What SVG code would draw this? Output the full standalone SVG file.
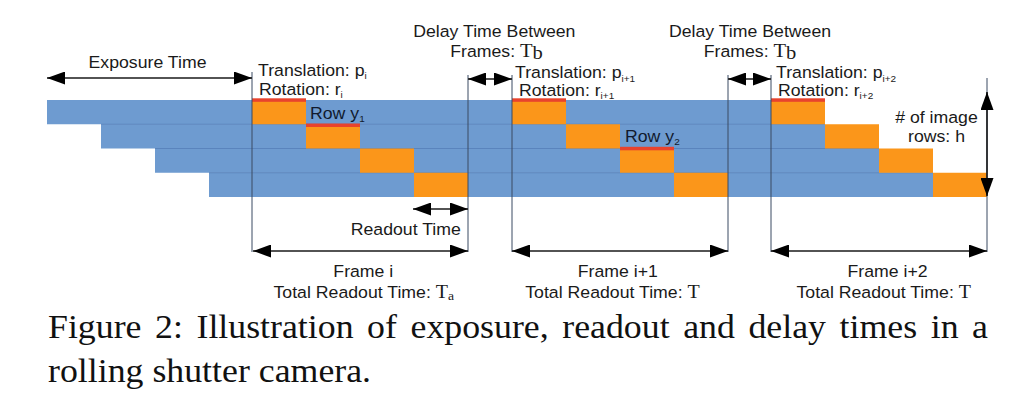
<svg xmlns="http://www.w3.org/2000/svg" width="1024" height="401" viewBox="0 0 1024 401">
<defs>
<style>
.t{font-family:'Liberation Sans',Arial,sans-serif;font-size:16.8px;fill:#1a1a1a}
.sr{font-family:'Liberation Serif','Times New Roman',serif}
.sub{font-size:9.5px}
.row{fill:#111a2e}
.cap{font-family:'Liberation Serif','Times New Roman',serif;font-size:34px;fill:#111}
.bar{fill:#6e9bd0}
.or{fill:#fb961a}
.red{fill:#e8432d}
.sep{stroke:#5a84bd;stroke-width:1;fill:none}
.vl{stroke:#3b4a63;stroke-width:1;fill:none}
.ar{stroke:#1a1a1a;stroke-width:1.6;fill:none;marker-start:url(#ah);marker-end:url(#ah)}
</style>
<marker id="ah" viewBox="0 0 18 13" refX="18" refY="6.5" markerWidth="18" markerHeight="13" markerUnits="userSpaceOnUse" orient="auto-start-reverse">
<path d="M0,0 L18,6.5 L0,13 z" fill="#000"/>
</marker>
</defs>
<rect width="1024" height="401" fill="#fff"/>

<g id="rows">
<rect class="bar" x="47" y="100" width="724" height="24.25"/>
<rect class="bar" x="101" y="124.25" width="724" height="24.25"/>
<rect class="bar" x="155" y="148.5" width="724" height="24.25"/>
<rect class="bar" x="209" y="172.75" width="724" height="24.25"/>
<path class="sep" d="M101,124.25 H825 M155,148.5 H879 M209,172.75 H933"/>
</g>

<g id="frame-i">
<rect class="or" x="252" y="100" width="54" height="24.25"/>
<rect class="or" x="306" y="124.25" width="54" height="24.25"/>
<rect class="or" x="360" y="148.5" width="54" height="24.25"/>
<rect class="or" x="414" y="172.75" width="54" height="24.25"/>
<rect class="red" x="252" y="98.3" width="54" height="3.5"/>
<rect class="red" x="306" y="123.5" width="54" height="3.5"/>
</g>

<g id="frame-i1">
<rect class="or" x="512" y="100" width="54" height="24.25"/>
<rect class="or" x="566" y="124.25" width="54" height="24.25"/>
<rect class="or" x="620" y="148.5" width="54" height="24.25"/>
<rect class="or" x="674" y="172.75" width="54" height="24.25"/>
<rect class="red" x="512" y="98.3" width="54" height="3.5"/>
<rect class="red" x="620" y="146.8" width="54" height="3.5"/>
</g>

<g id="frame-i2">
<rect class="or" x="771" y="100" width="54" height="24.25"/>
<rect class="or" x="825" y="124.25" width="54" height="24.25"/>
<rect class="or" x="879" y="148.5" width="54" height="24.25"/>
<rect class="or" x="933" y="172.75" width="54" height="24.25"/>
<rect class="red" x="771" y="98.3" width="54" height="3.5"/>
</g>

<g id="connectors">
<path class="vl" d="M252,72 V252 M468,75 V252 M512,75 V252 M728,75 V252 M771,75 V252 M987,78 V252"/>
<path class="ar" d="M47,78 H252"/>
<path class="ar" d="M468,79 H512"/>
<path class="ar" d="M728,79 H771"/>
<path class="ar" d="M987,92 V196"/>
<path class="ar" d="M413,209 H468"/>
<path class="ar" d="M253,251 H468"/>
<path class="ar" d="M512,251 H728"/>
<path class="ar" d="M771,251 H987"/>
</g>

<g id="labels">
<text class="t" text-anchor="middle" transform="translate(147.5,68) scale(1.053,1)">Exposure Time</text>
<text class="t" text-anchor="middle" transform="translate(494.3,36.5) scale(1.053,1)">Delay Time Between</text>
<text class="t" text-anchor="middle" transform="translate(496.5,56.5) scale(1.053,1)">Frames: <tspan class="sr" font-size="19.5">T</tspan><tspan class="sr" font-size="19.5" dy="2.5">b</tspan></text>
<text class="t" text-anchor="middle" transform="translate(750,36.5) scale(1.053,1)">Delay Time Between</text>
<text class="t" text-anchor="middle" transform="translate(750,56.5) scale(1.053,1)">Frames: <tspan class="sr" font-size="19.5">T</tspan><tspan class="sr" font-size="19.5" dy="2.5">b</tspan></text>

<text class="t" transform="translate(258,75.5) scale(1.053,1)">Translation: p<tspan class="sub" dy="3.5">i</tspan></text>
<text class="t" transform="translate(259,94.5) scale(1.053,1)">Rotation: r<tspan class="sub" dy="3.5">i</tspan></text>
<text class="t" transform="translate(515,78) scale(1.053,1)">Translation: p<tspan class="sub" dy="3.5">i+1</tspan></text>
<text class="t" transform="translate(519,95.5) scale(1.053,1)">Rotation: r<tspan class="sub" dy="3.5">i+1</tspan></text>
<text class="t" transform="translate(776,78) scale(1.053,1)">Translation: p<tspan class="sub" dy="3.5">i+2</tspan></text>
<text class="t" transform="translate(778,95.5) scale(1.053,1)">Rotation: r<tspan class="sub" dy="3.5">i+2</tspan></text>

<text class="t row" transform="translate(310,118.5) scale(1.053,1)">Row y<tspan class="sub" dy="3.5">1</tspan></text>
<text class="t row" transform="translate(625,141.5) scale(1.053,1)">Row y<tspan class="sub" dy="3.5">2</tspan></text>

<text class="t" text-anchor="middle" transform="translate(936.5,123) scale(1.053,1)"># of image</text>
<text class="t" text-anchor="middle" transform="translate(936.5,141.5) scale(1.053,1)">rows: h</text>

<text class="t" text-anchor="middle" transform="translate(405.8,235) scale(1.053,1)">Readout Time</text>

<text class="t" text-anchor="middle" transform="translate(363.3,277.3) scale(1.053,1)">Frame i</text>
<text class="t" text-anchor="middle" transform="translate(363.8,298.3) scale(1.053,1)">Total Readout Time: <tspan class="sr" font-size="19">T</tspan><tspan class="sr" font-size="13" dy="2">a</tspan></text>
<text class="t" text-anchor="middle" transform="translate(617.8,277.3) scale(1.053,1)">Frame i+1</text>
<text class="t" text-anchor="middle" transform="translate(612.5,298.3) scale(1.053,1)">Total Readout Time: <tspan class="sr" font-size="19">T</tspan></text>
<text class="t" text-anchor="middle" transform="translate(887.5,277.3) scale(1.053,1)">Frame i+2</text>
<text class="t" text-anchor="middle" transform="translate(883.7,298.3) scale(1.053,1)">Total Readout Time: <tspan class="sr" font-size="19">T</tspan></text>
</g>

<g id="caption">
<text class="cap" word-spacing="4.4" transform="translate(48,338) scale(1.053,1)">Figure 2:  Illustration of exposure, readout and delay times in a</text>
<text class="cap" transform="translate(48,382) scale(1.053,1)">rolling shutter camera.</text>
</g>
</svg>
